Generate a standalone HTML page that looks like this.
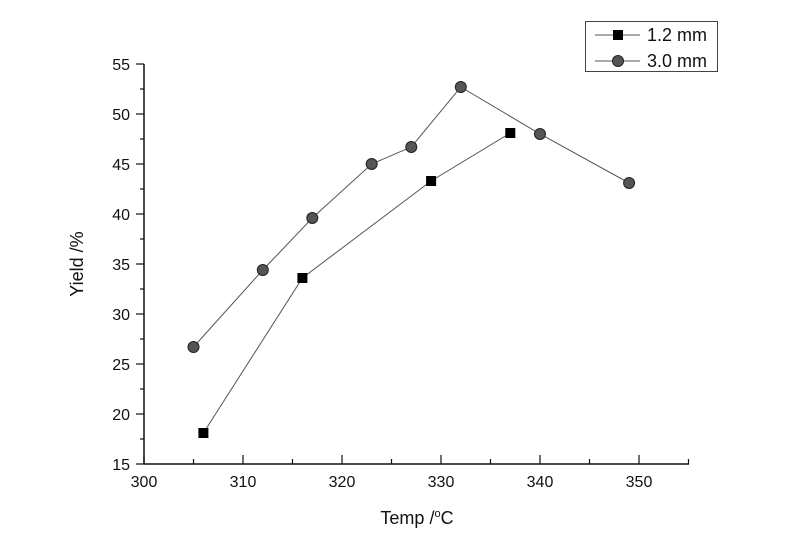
<!DOCTYPE html>
<html><head><meta charset="utf-8"><style>
html,body{margin:0;padding:0;background:#fff;}
svg{display:block;font-family:"Liberation Sans",Arial,sans-serif;}
</style></head><body>
<svg id="chart" width="800" height="558" viewBox="0 0 800 558">
<g id="axes"></g>
<g id="series"></g>
<text x="417" y="524" text-anchor="middle" font-size="18" fill="#111">Temp /<tspan dy="-7" font-size="11">o</tspan><tspan dy="7">C</tspan></text>
<text transform="translate(83,264) rotate(-90)" text-anchor="middle" font-size="18" fill="#111">Yield /%</text>
<g>
<rect x="585.5" y="21.5" width="132" height="50" fill="#fff" stroke="#444" stroke-width="1"/>
<g>
<line x1="595" y1="35" x2="640" y2="35" stroke="#555" stroke-width="1"/>
<rect x="613" y="30" width="10" height="10" fill="#000"/>
<text x="647" y="41" font-size="18" fill="#111">1.2 mm</text></g>
<g>
<line x1="595" y1="61" x2="640" y2="61" stroke="#555" stroke-width="1"/>
<circle cx="618" cy="61" r="5.5" fill="#555" stroke="#222" stroke-width="1"/>
<text x="647" y="67" font-size="18" fill="#111">3.0 mm</text></g>
</g>
</svg>
<script>
const xTicks=[300,310,320,330,340,350];
const yTicks=[15,20,25,30,35,40,45,50,55];
const tempA=[306,316,329,337];
const yieldA=[18.1,33.6,43.3,48.1];
const tempB=[305,312,317,323,327,332,340,349];
const yieldB=[26.7,34.4,39.6,45,46.7,52.7,48,43.1];
const NS='http://www.w3.org/2000/svg';
function X(v){return 144+(v-300)*9.9;}
function Y(v){return 464-(v-15)*10;}
function mk(tag,attrs,parent){const e=document.createElementNS(NS,tag);for(const k in attrs)e.setAttribute(k,attrs[k]);parent.appendChild(e);return e;}
const ax=document.getElementById('axes');
let a=mk('line',{x1:144,y1:64,x2:144,y2:464.5,stroke:'#111','stroke-width':1.5},ax);


a=mk('line',{x1:143.5,y1:464,x2:689,y2:464,stroke:'#111','stroke-width':1.5},ax);


for(let v=300;v<=355;v+=5){const major=(v%10===0);
 const t=mk('line',{x1:X(v),x2:X(v),y1:464,y2:major?455:459,stroke:'#111','stroke-width':1.2},ax);
 
 }
xTicks.forEach(v=>{const t=mk('text',{x:X(v),y:487,'text-anchor':'middle','font-size':16,fill:'#111'},ax);t.textContent=v;
 
 });
for(let v=15;v<=55;v+=2.5){const major=(v%5===0);
 const t=mk('line',{x1:144,x2:major?136:140,y1:Y(v),y2:Y(v),stroke:'#111','stroke-width':1.2},ax);
 
 }
yTicks.forEach(v=>{const t=mk('text',{x:130,y:Y(v)+6,'text-anchor':'end','font-size':16,fill:'#111'},ax);t.textContent=v;
 
 });
const sr=document.getElementById('series');
function pts(xs,ys){return xs.map((x,i)=>X(x)+','+Y(ys[i])).join(' ');}
let l=mk('polyline',{points:pts(tempA,yieldA),fill:'none',stroke:'#555','stroke-width':1},sr);


l=mk('polyline',{points:pts(tempB,yieldB),fill:'none',stroke:'#555','stroke-width':1},sr);


tempA.forEach((x,i)=>{const r=mk('rect',{x:X(x)-5,y:Y(yieldA[i])-5,width:10,height:10,fill:'#000'},sr);
 
 });
tempB.forEach((x,i)=>{const c=mk('circle',{cx:X(x),cy:Y(yieldB[i]),r:5.5,fill:'#555',stroke:'#222','stroke-width':1},sr);
 
 });
</script>
</body></html>
